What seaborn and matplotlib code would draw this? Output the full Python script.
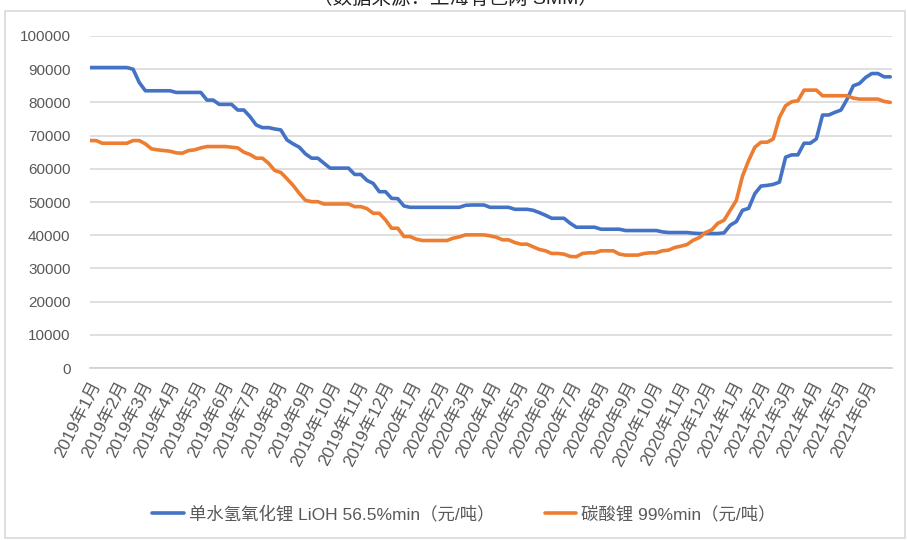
import matplotlib
matplotlib.use("Agg")
import matplotlib.pyplot as plt
import seaborn as sns
import pandas as pd

# ---- data (weekly readings, yuan/ton) ----
start_date = "2019-01-01"
lioh_values = [
    90500, 90500, 90500, 90500, 90500, 90500, 90500, 90000, 86000, 83500,
    83500, 83500, 83500, 83500, 83000, 83000, 83000, 83000, 83000, 80700,
    80700, 79400, 79400, 79400, 77700, 77700, 75700, 73200, 72400, 72400,
    72000, 71700, 68700, 67500, 66500, 64500, 63200, 63200, 61700, 60200,
    60200, 60200, 60200, 58300, 58300, 56500, 55600, 53100, 53100, 51100,
    51000, 48800, 48400, 48400, 48400, 48400, 48400, 48400, 48400, 48400,
    48400, 49000, 49100, 49100, 49100, 48400, 48400, 48400, 48400, 47800,
    47800, 47800, 47500, 46800, 46000, 45100, 45100, 45100, 43600, 42400,
    42400, 42400, 42400, 41800, 41800, 41800, 41800, 41400, 41400, 41400,
    41400, 41400, 41400, 41000, 40800, 40800, 40800, 40800, 40600, 40500,
    40500, 40500, 40500, 40700, 43000, 44100, 47500, 48100, 52500, 54800,
    55000, 55300, 56000, 63500, 64200, 64200, 67700, 67700, 69000, 76200,
    76200, 77000, 77700, 81000, 85000, 85700, 87500, 88700, 88700, 87700,
    87700,
]
li2co3_values = [
    68500, 68500, 67700, 67700, 67700, 67700, 67700, 68500, 68500, 67500,
    66000, 65700, 65500, 65300, 64800, 64700, 65500, 65700, 66300, 66700,
    66700, 66700, 66700, 66500, 66300, 65000, 64300, 63200, 63200, 61700,
    59500, 58900, 57000, 55000, 52600, 50500, 50100, 50100, 49400, 49400,
    49400, 49400, 49400, 48600, 48600, 48000, 46600, 46600, 44600, 42100,
    42100, 39600, 39600, 38800, 38400, 38400, 38400, 38400, 38400, 39100,
    39500, 40100, 40100, 40100, 40100, 39800, 39400, 38600, 38600, 37800,
    37300, 37300, 36500, 35700, 35300, 34500, 34500, 34300, 33600, 33500,
    34500, 34700, 34700, 35300, 35300, 35300, 34300, 34000, 34000, 34000,
    34500, 34700, 34700, 35300, 35500, 36300, 36700, 37200, 38500, 39300,
    40800, 41600, 43600, 44500, 47500, 50500, 57800, 62500, 66500, 68000,
    68000, 69000, 75500, 79000, 80200, 80500, 83700, 83700, 83700, 82000,
    82000, 82000, 82000, 82000, 81300, 81000, 81000, 81000, 81000, 80300,
    80000,
]
series_names = ["单水氢氧化锂 LiOH 56.5%min（元/吨）", "碳酸锂 99%min（元/吨）"]
series_colors = ["#4472C4", "#ED7D31"]
tick_months = pd.date_range("2019-01-01", "2021-06-01", freq="MS")
tick_labels = [f"{d.year}年{d.month}月" for d in tick_months]
y_ticks = list(range(0, 100001, 10000))
source_text = "（数据来源：上海有色网 SMM）"

dates = pd.date_range(start_date, periods=len(lioh_values), freq="7D")
df = pd.concat([
    pd.DataFrame({"date": dates, "price": lioh_values, "series": series_names[0]}),
    pd.DataFrame({"date": dates, "price": li2co3_values, "series": series_names[1]}),
])

sns.set_theme(style="white")
plt.rcParams["font.family"] = ["Liberation Sans", "Noto Sans CJK SC", "DejaVu Sans"]

fig = plt.figure(figsize=(9.07, 5.40), dpi=100)
ax = fig.add_axes([90 / 907, 1 - 368 / 540, 802 / 907, 332 / 540])

sns.lineplot(data=df, x="date", y="price", hue="series", palette=series_colors,
             linewidth=2.6, ax=ax, legend=True)

ax.set_ylim(0, 100000)
ax.set_yticks(y_ticks)
ax.set_yticklabels([str(v) for v in y_ticks], color="#595959", fontsize=11)
ax.set_xlim(pd.Timestamp("2019-01-01"), pd.Timestamp("2021-07-01"))
ax.set_xticks(tick_months)
ax.set_xticklabels(tick_labels, rotation=63, ha="right", rotation_mode="anchor",
                   color="#595959", fontsize=12.5)
ax.set_xlabel("")
ax.set_ylabel("")
ax.yaxis.grid(True, color="#d9d9d9", linewidth=1.2)
ax.set_axisbelow(True)
for s in ["top", "right", "left"]:
    ax.spines[s].set_visible(False)
ax.spines["bottom"].set_color("#d0d0d0")
ax.spines["bottom"].set_linewidth(1.2)
ax.tick_params(axis="y", length=0, pad=14)
ax.tick_params(axis="x", length=5, width=1.2, color="#d0d0d0", pad=3, direction="out")

handles, labels = ax.get_legend_handles_labels()
ax.legend(handles, labels, loc="center", bbox_to_anchor=(464 / 907, 1 - 514 / 540),
          bbox_transform=fig.transFigure, ncol=2, frameon=False, fontsize=12.5,
          handlelength=1.8, handletextpad=0.3, columnspacing=2.9, labelcolor="#595959")

fig.text(455 / 907, 1 + 1 / 540, source_text, ha="center", va="center",
         fontsize=14, color="#222222")
fig.patches.append(matplotlib.patches.Rectangle((5 / 907, 2 / 540), 900 / 907, 527 / 540,
                   transform=fig.transFigure, fill=False, edgecolor="#d9d9d9", linewidth=1.2))

fig.savefig("out.png", dpi=100)
